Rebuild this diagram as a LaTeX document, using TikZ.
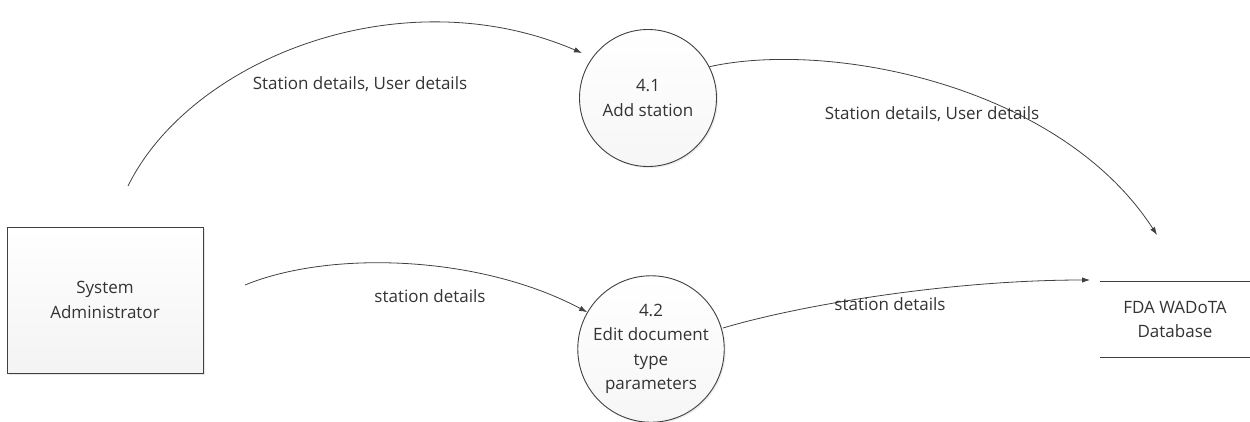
\documentclass[tikz,border=0pt]{standalone}
\usepackage{fontspec}
\setmainfont{Open Sans}
\usetikzlibrary{arrows.meta,shadows}
\definecolor{ink}{HTML}{404040}
\definecolor{txt}{HTML}{333333}
\tikzset{
  every node/.style={text=txt, font=\fontsize{17}{24.5}\selectfont},
  entity/.style={draw=ink, line width=1pt, rectangle, minimum width=196pt, minimum height=146pt,
    top color=white, bottom color=gray!9, align=center,
    drop shadow={shadow xshift=2pt, shadow yshift=-2pt, opacity=0.2}},
  proc/.style={draw=ink, line width=0.9pt, circle, minimum size=137pt, inner sep=0pt,
    top color=white, bottom color=gray!7, align=center,
    drop shadow={shadow xshift=1.5pt, shadow yshift=-1.5pt, opacity=0.15}},
  flow/.style={draw=ink, line width=0.8pt, -{Latex[length=8pt,width=5.5pt]}},
  lbl/.style={inner sep=0pt},
  storeline/.style={draw=ink, line width=1.2pt}
}
\begin{document}
\begin{tikzpicture}[x=1pt,y=-1pt]
\useasboundingbox (0,0) rectangle (1250,421);
% nodes
\node[entity] (sa) at (105,300) {System\\Administrator};
\node[proc] (p41) at (648,98) {4.1\\Add station};
\node[proc] (p42) at (651,349) {4.2\\Edit document\\type\\parameters};
\node[minimum width=150pt, minimum height=75pt, inner sep=0pt, align=center] (db) at (1175,319.5) {FDA WADoTA\\Database};
\draw[storeline] (db.north west) -- (db.north east);
\draw[storeline] (db.south west) -- (db.south east);
% free ends
\coordinate (s1) at (128,186);
\coordinate (e1) at (582,53);
\coordinate (s3) at (245,285);
\coordinate (e2) at (1157,235);
\coordinate (s4) at (723,328);
\coordinate (e4) at (1090,280);
% flows
\draw[flow] (s1) .. controls (190,60) and (400,-25) .. (e1);
\draw[flow] (p41.27) .. controls (830,40) and (1060,85) .. (e2);
\draw[flow] (s3) .. controls (330,250) and (480,255) .. (p42.150);
\draw[flow] (s4) .. controls (800,305) and (950,280) .. (e4);
% labels
\node[lbl] (l1) at (360,84) {Station details, User details};
\node[lbl] (l2) at (932,114) {Station details, User details};
\node[lbl] (l3) at (430,296) {station details};
\node[lbl] (l4) at (890,304) {station details};
\end{tikzpicture}
\end{document}
